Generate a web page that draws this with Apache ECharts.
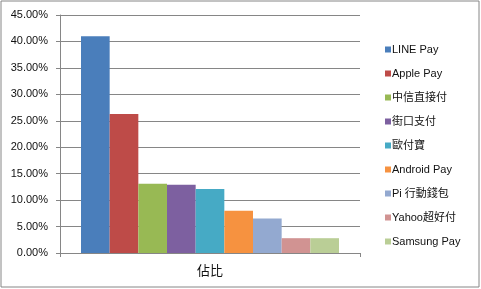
<!DOCTYPE html>
<html><head><meta charset="utf-8">
<script src="https://cdn.jsdelivr.net/npm/echarts@6/dist/echarts.min.js"></script>
<style>html,body{margin:0;padding:0;background:#fff}#c{width:481px;height:289px}</style>
</head><body><div id="c"></div>
<script>
const categories = ['佔比'];
const seriesNames = ['LINE Pay','Apple Pay','中信直接付','街口支付','歐付寶','Android Pay','Pi 行動錢包','Yahoo超好付','Samsung Pay'];
const seriesValues = [41.0, 26.3, 13.1, 12.9, 12.1, 8.0, 6.5, 2.8, 2.8];
const yTicks = [0,5,10,15,20,25,30,35,40,45];
const colors = ['#4A7EBB','#BE4B48','#98B954','#7D60A0','#46AAC5','#F69240','#93A9D0','#D19392','#BACE96'];

const font = '"Liberation Sans","Noto Sans CJK TC",sans-serif';
const chart = echarts.init(document.getElementById('c'), null, {renderer:'canvas'});
chart.setOption({
  animation:false,
  color: colors,
  textStyle:{fontFamily:font},
  grid:{left:60,right:121,top:15,bottom:36},
  legend:{
    orient:'vertical', left:380, top:39, itemWidth:6, itemHeight:6, itemGap:13,
    icon:'rect',
    textStyle:{fontSize:11,color:'#111',fontFamily:font, padding:[0,0,0,-4]},
    data: seriesNames
  },
  xAxis:{
    type:'category', data:categories,
    axisLine:{lineStyle:{color:'#868686'}},
    axisTick:{show:true,length:4,lineStyle:{color:'#868686'}},
    axisLabel:{fontSize:13,color:'#111',margin:12}
  },
  yAxis:{
    type:'value', min:yTicks[0], max:yTicks[yTicks.length-1], interval:5,
    axisLine:{show:true,lineStyle:{color:'#868686'}},
    axisTick:{show:true,length:4,lineStyle:{color:'#868686'}},
    splitLine:{lineStyle:{color:'#868686'}},
    axisLabel:{fontSize:11,color:'#111',margin:12,formatter:v=>v.toFixed(2)+'%'}
  },
  graphic:[{type:'rect',shape:{x:1,y:1,width:478,height:286},style:{fill:null,stroke:'#868686',lineWidth:1},silent:true}],
  series: seriesNames.map((n,i)=>({
    name:n, type:'bar', data:[seriesValues[i]], barGap:'0%', barCategoryGap:'14%'
  }))
});
</script></body></html>
